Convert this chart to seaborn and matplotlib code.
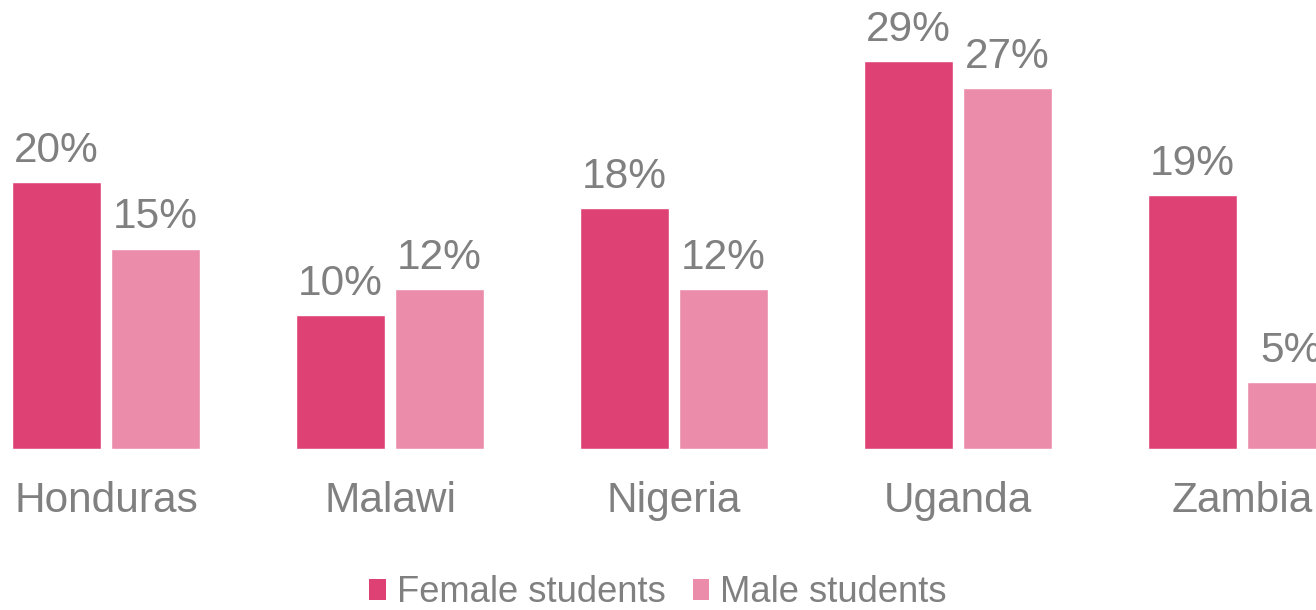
import seaborn as sns
import pandas as pd
import matplotlib.pyplot as plt
from matplotlib.patches import Patch

countries = ['Honduras', 'Malawi', 'Nigeria', 'Uganda', 'Zambia']
female = [20, 10, 18, 29, 19]
male = [15, 12, 12, 27, 5]
groups = ['Female students', 'Male students']
colors = {'Female students': '#DE4275', 'Male students': '#EB8DAA'}
text_grey = '#808080'

df = pd.DataFrame({
    'country': countries * 2,
    'group': [groups[0]] * len(countries) + [groups[1]] * len(countries),
    'value': female + male,
})

sns.set_style('white')
plt.rcParams['font.family'] = ['Liberation Sans', 'DejaVu Sans']

fig = plt.figure(figsize=(13.16, 6.10), dpi=100)
ax = fig.add_axes([0, 0.264, 1, 0.736])

sns.barplot(data=df, x='country', y='value', hue='group', palette=colors,
            width=0.697, gap=0.101, legend=False, ax=ax, saturation=1)

# value labels above each bar
for cont in ax.containers:
    ax.bar_label(cont, fmt='%d%%', padding=8, fontsize=30.5, color=text_grey)

ax.set_xlim(-106 / 284, (1316 - 106) / 284)
ax.set_ylim(0, 33.6)
ax.set_xlabel('')
ax.set_ylabel('')
ax.set_yticks([])
ax.tick_params(axis='x', length=0, pad=23, labelsize=30.5, labelcolor=text_grey)
sns.despine(ax=ax, left=True, bottom=True)

handles = [Patch(facecolor=colors[g], edgecolor='none') for g in groups]
fig.legend(handles, groups, loc='center', bbox_to_anchor=(0.5, 0.028), ncol=2,
           frameon=False, fontsize=26.2, labelcolor=text_grey,
           handlelength=0.45, handleheight=0.5, handletextpad=0.3,
           columnspacing=0.75, borderpad=0, borderaxespad=0)

fig.savefig('out.png', dpi=100)
